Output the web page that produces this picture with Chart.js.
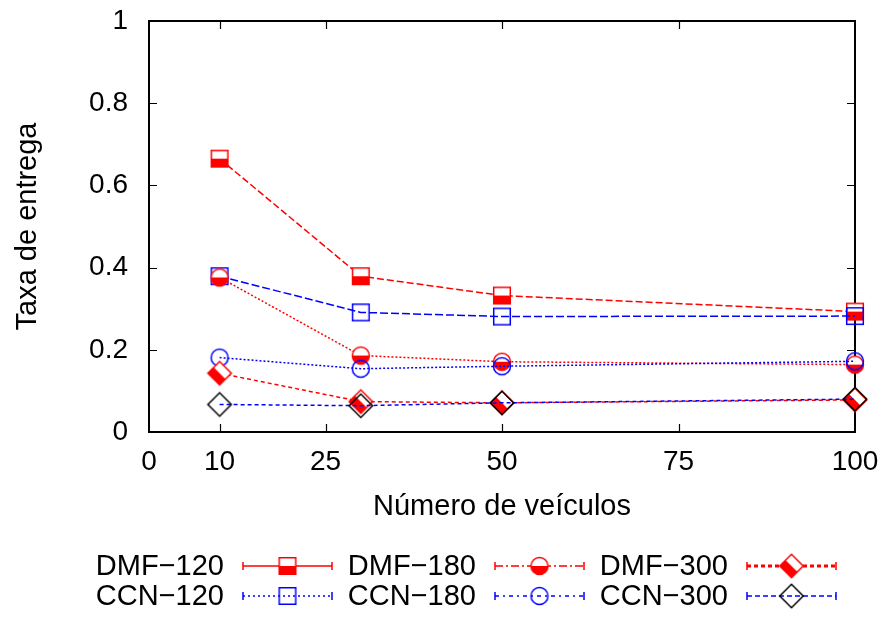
<!DOCTYPE html>
<html>
<head>
<meta charset="utf-8">
<script src="https://cdn.jsdelivr.net/npm/chart.js@4"></script>
<style>
  html, body { margin: 0; padding: 0; background: #fff; }
  canvas { display: block; }
</style>
</head>
<body>
<canvas id="chart" width="887" height="617"></canvas>
<script>
// ===== Data =====
const vehicles = [10, 30, 50, 100];
const dmf120 = [0.665, 0.379, 0.332, 0.293];
const dmf180 = [0.376, 0.186, 0.171, 0.164];
const dmf300 = [0.143, 0.074, 0.071, 0.078];
const ccn120 = [0.379, 0.291, 0.281, 0.282];
const ccn180 = [0.181, 0.154, 0.160, 0.172];
const ccn300 = [0.067, 0.064, 0.071, 0.080];
const xTicks = [0, 10, 25, 50, 75, 100];
const yTicks = [0, 0.2, 0.4, 0.6, 0.8, 1];

const RED = "#ff0000";
const BLUE = "#0000ff";
const FONT = '"Liberation Sans", Arial, sans-serif';

// ===== Point markers (gnuplot-like) =====
function marker(shape, color, half) {
  const size = shape === "diamond" ? 28 : 22;
  const c = document.createElement("canvas");
  c.width = size;
  c.height = size;
  const g = c.getContext("2d");
  g.translate(size / 2, size / 2);
  if (shape === "diamond") g.rotate(Math.PI / 4);
  const r = shape === "circle" ? 8.5 : 8.3;
  const path = () => {
    g.beginPath();
    if (shape === "circle") g.arc(0, 0, r, 0, Math.PI * 2);
    else g.rect(-r, -r, r * 2, r * 2);
  };
  if (half) {
    path();
    g.fillStyle = "#fff";
    g.fill();
    g.save();
    path();
    g.clip();
    g.fillStyle = color;
    g.fillRect(-r - 2, 0, r * 2 + 4, r + 2);
    g.restore();
  }
  g.lineWidth = 1.5;
  g.strokeStyle = color;
  path();
  g.stroke();
  return c;
}

// drawing order follows the original plot: later entries are drawn on top
const series = [
  { label: "DMF\u2212120", data: dmf120, color: RED, dash: [7, 3], keyDash: [], keyWidth: 1.5, point: marker("square", RED, true), row: 0, col: 0 },
  { label: "CCN\u2212120", data: ccn120, color: BLUE, dash: [8, 3], keyDash: [2, 3], keyWidth: 1.5, point: marker("square", BLUE, false), row: 1, col: 0 },
  { label: "DMF\u2212180", data: dmf180, color: RED, dash: [2, 2], keyDash: [8, 3, 2, 3], keyWidth: 1.5, point: marker("circle", RED, true), row: 0, col: 1 },
  { label: "CCN\u2212180", data: ccn180, color: BLUE, dash: [2, 2], keyDash: [4, 4, 2, 4], keyWidth: 1.5, point: marker("circle", BLUE, false), row: 1, col: 1 },
  { label: "DMF\u2212300", data: dmf300, color: RED, dash: [4, 3], keyDash: [4, 3], keyWidth: 3, point: marker("diamond", RED, true), row: 0, col: 2 },
  { label: "CCN\u2212300", data: ccn300, color: BLUE, dash: [4, 3], keyDash: [5, 3], keyWidth: 1.5, point: marker("diamond", "#000", false), row: 1, col: 2 },
];

// ===== Frame with inward ticks =====
const framePlugin = {
  id: "frame",
  beforeDatasetsDraw(chart) {
    const { ctx, chartArea: a, scales } = chart;
    ctx.save();
    ctx.strokeStyle = "#000";
    ctx.lineWidth = 1.2;
    ctx.beginPath();
    xTicks.forEach(v => {
      if (v <= scales.x.min || v >= scales.x.max) return;
      const px = Math.round(scales.x.getPixelForValue(v)) + 0.5;
      ctx.moveTo(px, a.bottom); ctx.lineTo(px, a.bottom - 8);
      ctx.moveTo(px, a.top); ctx.lineTo(px, a.top + 8);
    });
    yTicks.forEach(v => {
      if (v <= scales.y.min || v >= scales.y.max) return;
      const py = Math.round(scales.y.getPixelForValue(v)) + 0.5;
      ctx.moveTo(a.left, py); ctx.lineTo(a.left + 8, py);
      ctx.moveTo(a.right, py); ctx.lineTo(a.right - 8, py);
    });
    ctx.stroke();
    ctx.lineWidth = 2;
    ctx.strokeRect(a.left, a.top, a.right - a.left, a.bottom - a.top);
    ctx.restore();
  }
};

// ===== Key (two rows below the plot) =====
const keyPlugin = {
  id: "key",
  afterDraw(chart) {
    const ctx = chart.ctx;
    const rowY = [566, 596];
    const colX = [243, 495, 747];
    const len = 89;
    ctx.save();
    ctx.font = "29px " + FONT;
    ctx.textAlign = "right";
    ctx.textBaseline = "middle";
    series.forEach(s => {
      const x = colX[s.col];
      const y = rowY[s.row];
      ctx.fillStyle = "#000";
      ctx.fillText(s.label, x - 19, y + 1);
      ctx.strokeStyle = s.color;
      ctx.lineWidth = s.keyWidth;
      ctx.setLineDash(s.keyDash);
      ctx.beginPath();
      ctx.moveTo(x, y); ctx.lineTo(x + len, y);
      ctx.stroke();
      ctx.setLineDash([]);
      ctx.lineWidth = 1.5;
      ctx.beginPath();
      ctx.moveTo(x, y - 4); ctx.lineTo(x, y + 4);
      ctx.moveTo(x + len, y - 4); ctx.lineTo(x + len, y + 4);
      ctx.stroke();
      ctx.drawImage(s.point, x + len / 2 - s.point.width / 2, y - s.point.height / 2);
    });
    ctx.restore();
  }
};

new Chart(document.getElementById("chart"), {
  type: "line",
  data: {
    datasets: series.map((s, i) => ({
      label: s.label,
      data: vehicles.map((v, j) => ({ x: v, y: s.data[j] })),
      borderColor: s.color,
      backgroundColor: s.color,
      borderWidth: 1.5,
      borderDash: s.dash,
      pointStyle: s.point,
      pointRadius: 9,
      fill: false,
      tension: 0,
      clip: false,
      order: series.length - i,
    }))
  },
  options: {
    responsive: false,
    animation: false,
    devicePixelRatio: 1,
    layout: { padding: { top: 21, right: 32, bottom: 80, left: 0 } },
    plugins: {
      legend: { display: false },
      tooltip: { enabled: false }
    },
    scales: {
      x: {
        type: "linear",
        min: 0,
        max: 100,
        afterBuildTicks: scale => { scale.ticks = xTicks.map(v => ({ value: v })); },
        afterFit: scale => {
          scale.height = 105;
          scale.paddingLeft = 0;
          scale.paddingRight = 0;
        },
        grid: { display: false, drawTicks: false },
        border: { display: false },
        ticks: {
          color: "#000",
          font: { family: FONT, size: 28 },
          padding: 13,
          maxRotation: 0,
          autoSkip: false,
          callback: v => String(v)
        },
        title: {
          display: true,
          text: "Número de veículos",
          color: "#000",
          font: { family: FONT, size: 29 },
          padding: { top: 0, bottom: 13 }
        }
      },
      y: {
        type: "linear",
        min: 0,
        max: 1,
        afterBuildTicks: scale => { scale.ticks = yTicks.map(v => ({ value: v })); },
        afterFit: scale => {
          scale.width = 149;
          scale.paddingTop = 0;
          scale.paddingBottom = 0;
        },
        grid: { display: false, drawTicks: false },
        border: { display: false },
        ticks: {
          color: "#000",
          font: { family: FONT, size: 28 },
          padding: 21,
          callback: v => String(+v.toFixed(1))
        },
        title: {
          display: true,
          text: "Taxa de entrega",
          color: "#000",
          font: { family: FONT, size: 29 },
          padding: { top: 11, bottom: 0 }
        }
      }
    }
  },
  plugins: [framePlugin, keyPlugin]
});
</script>
</body>
</html>
